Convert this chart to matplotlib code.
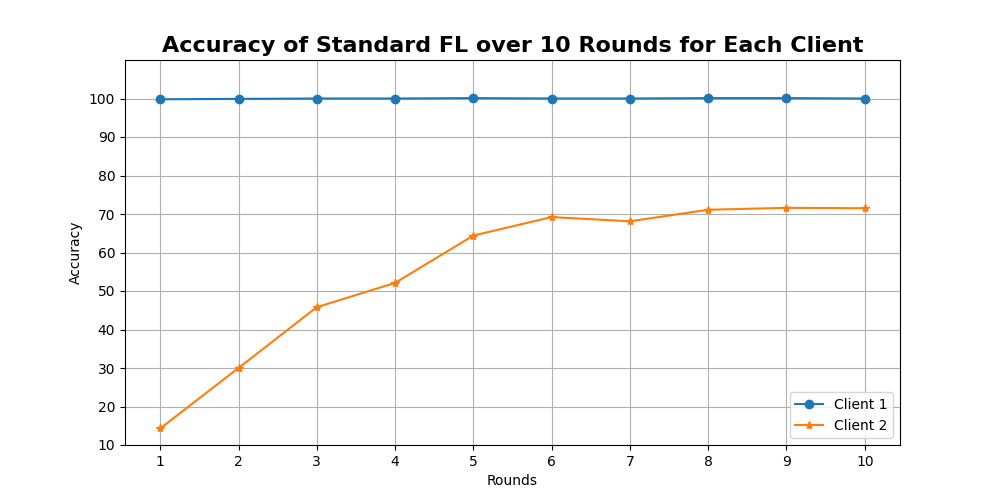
import matplotlib
matplotlib.use("Agg")
import matplotlib.pyplot as plt

# Values
rounds = list(range(1, 11))
client1_acc = [99.8, 99.9, 100.0, 100.0, 100.1, 100.0, 100.0, 100.1, 100.1, 100.0]
client2_acc = [14.3, 30.0, 45.8, 52.1, 64.4, 69.2, 68.1, 71.1, 71.6, 71.5]
yticks = list(range(10, 101, 10))

fig, ax = plt.subplots(figsize=(10, 5), dpi=100)
ax.plot(rounds, client1_acc, marker="o", label="Client 1")
ax.plot(rounds, client2_acc, marker="*", label="Client 2")

ax.set_title("Accuracy of Standard FL over 10 Rounds for Each Client",
             fontsize=16, fontweight="bold")
ax.set_xlabel("Rounds")
ax.set_ylabel("Accuracy")
ax.set_xticks(rounds)
ax.set_yticks(yticks)
ax.set_ylim(10, 110)
ax.grid(True)
ax.legend(loc="lower right")

plt.savefig("out.png", dpi=100)
plt.close()
